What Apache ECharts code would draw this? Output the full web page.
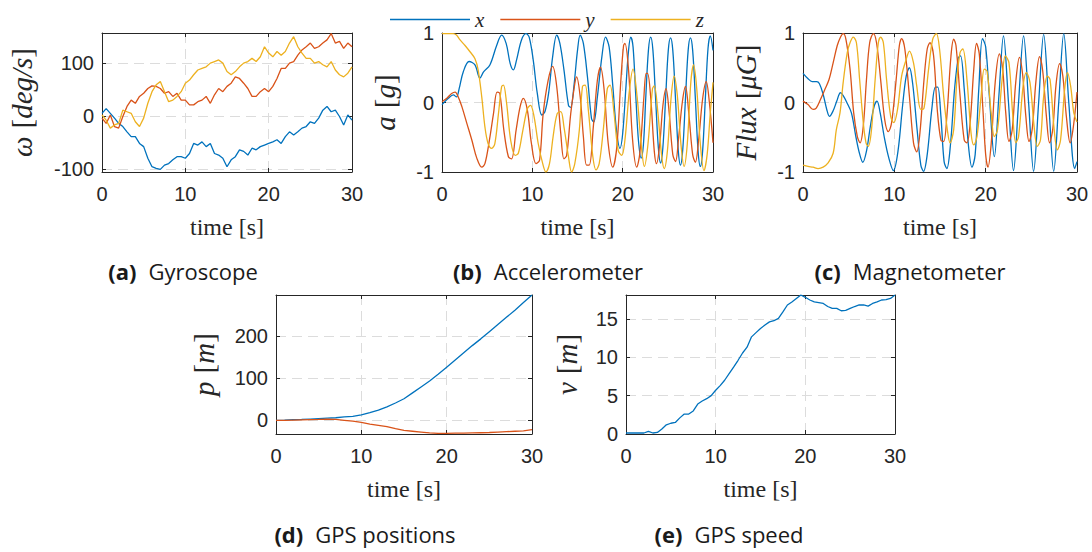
<!DOCTYPE html>
<html>
<head>
<meta charset="utf-8">
<script src="https://cdn.jsdelivr.net/npm/echarts@6/dist/echarts.min.js"></script>
<style>
  html, body { margin: 0; padding: 0; background: #ffffff; }
  #chart { width: 1092px; height: 552px; }
</style>
</head>
<body>
<div id="chart"></div>
<script>
// ---------- Gyroscope (deg/s), sampled every 0.5 s ----------
const gyroTime = [0,0.5,1,1.5,2,2.5,3,3.5,4,4.5,5,5.5,6,6.5,7,7.5,8,8.5,9,9.5,10,10.5,11,11.5,12,12.5,13,13.5,14,14.5,15,15.5,16,16.5,17,17.5,18,18.5,19,19.5,20,20.5,21,21.5,22,22.5,23,23.5,24,24.5,25,25.5,26,26.5,27,27.5,28,28.5,29,29.5,30];
const gyroX = [5,14,5,-4,-14,-20,-30,-39,-39,-52,-58,-80,-96,-99,-101,-93,-90,-83,-77,-77,-80,-71,-52,-55,-49,-58,-52,-71,-74,-80,-96,-83,-77,-64,-67,-74,-61,-64,-58,-55,-52,-49,-45,-52,-39,-30,-36,-30,-23,-20,-11,-14,-4,11,18,8,11,-1,-17,2,-8];
const gyroY = [-4,-14,2,-20,-23,-1,18,30,24,37,43,52,57,56,52,43,46,37,43,30,30,21,21,27,30,37,24,40,52,46,56,62,74,71,62,52,37,37,46,52,46,56,71,90,90,100,103,115,125,131,138,128,131,138,144,156,138,141,128,138,131];
const gyroZ = [2,-8,-23,-17,-14,11,8,5,-11,-20,-4,24,46,59,65,46,27,30,37,46,62,68,78,87,90,93,100,103,106,100,84,78,84,93,100,103,109,103,112,131,119,112,122,115,122,138,150,131,119,109,109,100,103,97,93,103,87,78,74,81,93];

// ---------- Accelerometer (g): [time, value] ----------
const accelX = [[0,-0.03],[0.7,0.06],[1.25,0.11],[1.6,0.08],[1.9,0.2],[2.35,0.44],[3.0,0.59],[3.65,0.54],[4.2,0.35],[4.6,0.44],[5.3,0.54],[6.05,0.82],[6.6,0.97],[7.1,0.85],[7.55,0.56],[7.9,0.47],[8.25,0.61],[8.8,0.9],[9.3,0.99],[9.65,0.94],[10.1,0.61],[10.55,0.13],[11.05,-0.18],[11.4,-0.13],[11.8,0.13],[12.25,0.66],[12.7,0.97],[13.05,0.85],[13.5,0.47],[14.0,-0.04],[14.25,-0.07],[14.6,0.23],[15.0,0.75],[15.3,0.97],[15.65,0.85],[16.1,0.37],[16.55,-0.23],[16.8,-0.28],[17.2,0.08],[17.7,0.66],[18.1,0.94],[18.5,0.8],[18.9,0.25],[19.3,-0.38],[19.7,-0.66],[20.0,-0.45],[20.35,0.2],[20.65,0.75],[20.9,0.94],[21.15,0.8],[21.45,0.1],[21.75,-0.55],[22.05,-0.8],[22.3,-0.6],[22.55,0.05],[22.85,0.75],[23.1,0.94],[23.35,0.75],[23.65,0.05],[23.95,-0.65],[24.2,-0.87],[24.45,-0.65],[24.75,0.05],[25.05,0.75],[25.3,0.93],[25.55,0.75],[25.85,0.05],[26.15,-0.68],[26.4,-0.9],[26.65,-0.68],[26.95,0.05],[27.25,0.75],[27.5,0.93],[27.75,0.75],[28.05,0.05],[28.35,-0.7],[28.6,-0.92],[28.85,-0.7],[29.15,0.05],[29.45,0.78],[29.7,0.96],[30,0.75]];
const accelY = [[0,0.01],[0.6,0.07],[1.07,0.13],[1.45,0.15],[1.8,0.08],[2.2,-0.06],[2.75,-0.3],[3.3,-0.54],[3.85,-0.8],[4.4,-0.93],[4.75,-0.88],[5.25,-0.54],[5.7,-0.16],[6.1,0.15],[6.4,0.13],[6.85,-0.4],[7.35,-0.78],[7.7,-0.81],[8.2,-0.4],[8.65,-0.06],[9.0,0.06],[9.45,-0.11],[9.9,-0.59],[10.4,-0.88],[10.8,-0.83],[11.2,-0.16],[11.75,0.32],[12.25,0.52],[12.7,0.23],[13.15,-0.45],[13.5,-0.81],[13.8,-0.76],[14.25,-0.16],[14.7,0.27],[14.9,0.37],[15.3,0.08],[15.65,-0.49],[16.0,-0.9],[16.3,-0.9],[16.75,-0.35],[17.2,0.32],[17.55,0.51],[17.95,0.18],[18.4,-0.59],[18.9,-0.93],[19.35,-0.64],[19.8,0.32],[20.1,0.82],[20.25,0.85],[20.65,0.47],[21.1,-0.54],[21.55,-0.93],[21.9,-0.73],[22.35,0.08],[22.6,0.42],[22.75,0.42],[23.1,0.08],[23.5,-0.7],[23.75,-0.88],[24.1,-0.6],[24.45,-0.05],[24.8,0.2],[25.15,-0.15],[25.55,-0.75],[25.85,-0.85],[26.2,-0.5],[26.6,0.0],[26.95,0.23],[27.35,-0.2],[27.75,-0.75],[28.05,-0.86],[28.4,-0.55],[28.85,0.05],[29.25,0.3],[29.6,0.0],[30,-0.58]];
const accelZ = [[0,0.99],[1.25,0.99],[1.6,0.97],[2.0,0.9],[2.55,0.82],[3.1,0.73],[3.65,0.63],[4.0,0.47],[4.4,0.08],[4.75,-0.35],[5.1,-0.59],[5.5,-0.66],[5.85,-0.59],[6.25,-0.16],[6.6,0.23],[6.8,0.25],[7.15,-0.01],[7.6,-0.54],[8.1,-0.76],[8.45,-0.73],[8.95,-0.4],[9.45,-0.09],[9.8,-0.04],[10.2,-0.21],[10.65,-0.59],[11.15,-0.88],[11.5,-1.0],[11.9,-0.88],[12.3,-0.49],[12.75,-0.16],[13.15,-0.13],[13.5,-0.35],[14.0,-0.78],[14.35,-1.0],[14.7,-0.88],[15.2,-0.4],[15.55,0.23],[15.85,0.25],[16.2,-0.11],[16.7,-0.78],[17.05,-0.97],[17.4,-0.88],[17.85,-0.4],[18.3,0.2],[18.6,0.25],[19.05,-0.16],[19.5,-0.69],[19.9,-0.76],[20.25,-0.54],[20.75,0.18],[21.15,0.48],[21.6,0.08],[22.05,-0.6],[22.4,-0.92],[22.8,-0.6],[23.3,0.2],[23.5,0.24],[23.9,-0.15],[24.3,-0.75],[24.6,-0.95],[24.95,-0.7],[25.35,0.05],[25.7,0.38],[26.05,0.1],[26.45,-0.6],[26.8,-0.92],[27.15,-0.6],[27.55,0.3],[27.85,0.54],[28.2,0.2],[28.6,-0.6],[29.0,-0.98],[29.35,-0.75],[29.7,-0.15],[30,0.29]];

// ---------- Magnetometer (uG): [time, value] ----------
const magX = [[0,0.42],[0.5,0.35],[1.0,0.3],[1.5,0.3],[1.8,0.27],[2.2,0.12],[2.6,-0.1],[2.9,-0.2],[3.3,-0.12],[3.7,0.02],[4.1,0.14],[4.4,0.1],[4.8,0.0],[5.3,-0.15],[5.8,-0.5],[6.2,-0.74],[6.55,-0.86],[6.95,-0.7],[7.4,-0.32],[7.8,-0.05],[8.1,0.02],[8.45,-0.15],[8.9,-0.5],[9.4,-0.8],[9.9,-0.98],[10.4,-0.7],[10.9,-0.05],[11.3,0.38],[11.65,0.5],[12.0,0.28],[12.5,-0.4],[12.9,-0.9],[13.2,-0.99],[13.6,-0.75],[14.1,-0.1],[14.5,0.22],[14.75,0.22],[15.1,-0.2],[15.45,-0.85],[15.75,-0.95],[16.15,-0.6],[16.6,0.2],[17.0,0.64],[17.25,0.67],[17.65,0.2],[18.1,-0.6],[18.5,-0.93],[18.85,-0.75],[19.25,0.2],[19.65,0.92],[20.0,0.8],[20.4,0.1],[20.95,-0.78],[21.45,0.1],[21.95,0.96],[22.5,0.0],[23.05,-0.98],[23.6,0.0],[24.15,0.96],[24.7,0.0],[25.25,-0.99],[25.8,0.0],[26.35,0.98],[26.9,0.0],[27.45,-0.99],[28.0,0.0],[28.55,0.99],[29.1,0.0],[29.75,-0.95],[30,-0.85]];
const magY = [[0,0.02],[0.55,-0.03],[1.1,-0.1],[1.45,-0.08],[1.9,0.04],[2.4,0.19],[2.85,0.33],[3.3,0.57],[3.75,0.82],[4.1,0.94],[4.4,0.99],[4.7,0.91],[5.15,0.48],[5.55,-0.15],[5.95,-0.49],[6.25,-0.58],[6.6,-0.34],[6.95,0.33],[7.3,0.86],[7.7,0.99],[8.05,0.86],[8.5,0.33],[8.95,-0.25],[9.35,-0.42],[9.7,-0.29],[10.2,0.33],[10.55,0.82],[10.8,0.92],[11.15,0.77],[11.65,0.09],[12.1,-0.58],[12.45,-0.71],[12.8,-0.44],[13.25,0.33],[13.6,0.77],[13.9,0.86],[14.3,0.67],[14.7,-0.1],[15.1,-0.54],[15.4,-0.56],[15.75,-0.2],[16.2,0.67],[16.5,0.91],[16.75,0.82],[17.2,0.09],[17.65,-0.54],[17.95,-0.58],[18.3,-0.29],[18.7,0.48],[19.0,0.85],[19.3,0.7],[19.7,-0.1],[20.0,-0.75],[20.25,-0.93],[20.6,-0.6],[21.05,0.3],[21.5,0.7],[21.85,0.5],[22.2,-0.15],[22.55,-0.56],[22.9,-0.4],[23.3,0.3],[23.7,0.65],[24.05,0.4],[24.4,-0.2],[24.75,-0.56],[25.1,-0.38],[25.5,0.3],[25.9,0.66],[26.25,0.45],[26.65,-0.2],[27.0,-0.58],[27.35,-0.38],[27.7,0.25],[28.1,0.56],[28.45,0.38],[28.85,-0.22],[29.25,-0.58],[29.6,-0.35],[30,0.15]];
const magZ = [[0,-0.9],[0.55,-0.92],[1.1,-0.93],[1.65,-0.95],[2.2,-0.93],[2.75,-0.87],[3.3,-0.73],[3.65,-0.39],[4.05,-0.15],[4.4,0.29],[4.85,0.72],[5.15,0.86],[5.5,0.94],[5.85,0.86],[6.2,0.33],[6.6,-0.29],[6.9,-0.58],[7.15,-0.63],[7.5,-0.39],[7.9,0.33],[8.25,0.86],[8.5,0.94],[8.8,0.86],[9.15,0.33],[9.6,-0.2],[9.95,-0.29],[10.35,-0.1],[10.8,0.38],[11.3,0.62],[11.65,0.74],[12.1,0.57],[12.45,0.24],[12.9,-0.1],[13.25,-0.08],[13.75,0.48],[14.2,0.91],[14.6,0.99],[14.95,0.77],[15.4,0.09],[15.8,-0.39],[16.1,-0.58],[16.5,-0.39],[16.85,0.33],[17.2,0.72],[17.5,0.77],[17.95,0.33],[18.4,-0.44],[18.7,-0.61],[19.05,-0.49],[19.5,0.09],[19.85,0.48],[20.15,0.45],[20.6,-0.15],[20.95,-0.49],[21.3,-0.39],[21.8,0.33],[22.15,0.67],[22.55,0.57],[22.95,-0.15],[23.3,-0.58],[23.6,-0.49],[24.1,0.24],[24.45,0.43],[24.85,0.29],[25.3,-0.34],[25.65,-0.63],[26.0,-0.54],[26.35,0.09],[26.75,0.38],[27.05,0.33],[27.5,-0.39],[27.85,-0.68],[28.2,-0.54],[28.65,0.19],[28.95,0.43],[29.3,0.24],[29.65,-0.15],[30,-0.28]];

// ---------- GPS positions (m), every 1 s ----------
const gpsTime = [0,1,2,3,4,5,6,7,8,9,10,11,12,13,14,15,16,17,18,19,20,21,22,23,24,25,26,27,28,29,30];
const posX = [0,0.5,1.5,2,3,4,5,6,8,9.5,13,18,24,32,41,51,65,79,93,109,126,143,160,177,193,210,227,244,261,279,297];
const posY = [0,0,0.5,1,1.5,2,3,2,0,-2,-5,-9,-12,-15,-20,-24,-26,-28,-30,-31,-31,-30.5,-30.5,-30,-29.5,-29,-28,-27,-26,-25,-22];

// ---------- GPS speed, every 0.5 s ----------
const speedTime = gyroTime;
const speed = [0.13,0.13,0.13,0.15,0.13,0.35,0.13,0.2,0.65,1.2,1.4,1.5,2.1,2.6,2.6,3.0,3.9,4.3,4.6,5.0,5.7,6.3,7.0,7.85,8.7,9.6,10.55,11.3,12.65,13.2,13.75,14.2,14.6,14.75,15.05,15.9,16.8,17.2,17.65,18.1,17.8,17.45,17.2,17.1,17.0,16.6,16.35,16.35,16.05,16.1,16.35,16.6,16.8,16.8,16.65,17.0,17.2,17.45,17.5,17.65,18.1];

// ---------- tick labels / names ----------
const timeTicks = [0, 10, 20, 30];
const seriesNames = ['x', 'y', 'z'];
const captions = [
  { tag: '(a)', text: 'Gyroscope' },
  { tag: '(b)', text: 'Accelerometer' },
  { tag: '(c)', text: 'Magnetometer' },
  { tag: '(d)', text: 'GPS positions' },
  { tag: '(e)', text: 'GPS speed' }
];

// ---------- styling ----------
const COLORS = ['#0072BD', '#D95319', '#EDB120'];
const AX = '#262626';
const GRID = '#dcdcdc';
const SANS = 'Liberation Sans, Arial, sans-serif';
const SERIF = 'Liberation Serif, Times New Roman, serif';
const CAP = 'Open Sans, DejaVu Sans, sans-serif';

// panel layout: left, top, width, height
const panels = [
  { left: 102, top: 33, width: 250, height: 139, ymin: -106, ymax: 157, step: 100, name: '{i|ω}{s|}{r|[}{i|deg/s}{r|]}', gap: 66, cap: [183, 271] },
  { left: 442, top: 33, width: 271, height: 139, ymin: -1, ymax: 1, step: 1, name: '{i|a}{s|}{r|[}{i|g}{r|]}', gap: 43, cap: [548, 271] },
  { left: 803, top: 33, width: 274, height: 139, ymin: -1, ymax: 1, step: 1, name: '{i|Flux}{s|}{r|[}{i|μG}{r|]}', gap: 43, cap: [910, 271] },
  { left: 276, top: 295, width: 256, height: 139, ymin: -32.5, ymax: 297, step: 100, name: '{i|p}{s|}{r|[}{i|m}{r|]}', gap: 58, cap: [365, 534] },
  { left: 626, top: 295, width: 269, height: 139, ymin: 0, ymax: 18.1, step: 5, name: '{i|v}{s|}{r|[}{i|m}{r|]}', gap: 45, cap: [729, 534] }
];

const nameRich = {
  i: { fontFamily: SERIF, fontStyle: 'italic', fontSize: 29, color: AX },
  r: { fontFamily: SERIF, fontSize: 29, color: AX },
  s: { width: 8 }
};

const grids = [], xAxes = [], yAxes = [];
panels.forEach((p, gi) => {
  grids.push({ left: p.left, top: p.top, width: p.width, height: p.height, containLabel: false });
  const tick = { inside: true, length: 4, lineStyle: { color: AX, width: 1 } };
  const line = { show: true, onZero: false, lineStyle: { color: AX, width: 1 } };
  xAxes.push({
    type: 'value', gridIndex: gi, position: 'bottom', min: 0, max: 30, interval: 10,
    axisLine: line, axisTick: tick,
    axisLabel: { margin: 12, fontSize: 20, fontFamily: SANS, color: AX,
      formatter: v => timeTicks.indexOf(v) >= 0 ? String(v) : '' },
    splitLine: { show: true, lineStyle: { color: GRID, type: [10, 6], width: 1 } },
    name: 'time [s]', nameLocation: 'middle', nameGap: 43,
    nameTextStyle: { fontFamily: SERIF, fontSize: 24, color: AX }
  });
  xAxes.push({
    type: 'value', gridIndex: gi, position: 'top', min: 0, max: 30, interval: 10,
    axisLine: line, axisTick: tick, axisLabel: { show: false }, splitLine: { show: false }
  });
  const step = p.step;
  const isTick = v => Math.abs(v / step - Math.round(v / step)) < 1e-6;
  yAxes.push({
    type: 'value', gridIndex: gi, position: 'left', min: p.ymin, max: p.ymax,
    minInterval: step, maxInterval: step,
    axisLine: line, axisTick: tick,
    axisLabel: { margin: 8, fontSize: 20, fontFamily: SANS, color: AX,
      formatter: v => isTick(v) ? String(Math.round(v)) : '' },
    splitLine: { show: true, lineStyle: { color: GRID, type: [10, 6], width: 1 } },
    name: p.name, nameLocation: 'middle', nameRotate: 90, nameGap: p.gap,
    nameTextStyle: { rich: nameRich }
  });
  yAxes.push({
    type: 'value', gridIndex: gi, position: 'right', min: p.ymin, max: p.ymax,
    minInterval: step, maxInterval: step,
    axisLine: line, axisTick: tick, axisLabel: { show: false }, splitLine: { show: false }
  });
});

function zip(times, values) { return values.map((v, i) => [times[i], v]); }
function lineSeries(gi, name, color, data, smooth) {
  return {
    type: 'line', name: name, xAxisIndex: 2 * gi, yAxisIndex: 2 * gi,
    data: data, showSymbol: false, symbol: 'none', smooth: smooth || false,
    lineStyle: { color: color, width: 1.3 }, itemStyle: { color: color },
    animation: false, z: 1
  };
}

const series = [
  lineSeries(0, seriesNames[0], COLORS[0], zip(gyroTime, gyroX)),
  lineSeries(0, seriesNames[1], COLORS[1], zip(gyroTime, gyroY)),
  lineSeries(0, seriesNames[2], COLORS[2], zip(gyroTime, gyroZ)),
  lineSeries(1, seriesNames[0], COLORS[0], accelX, 0.35),
  lineSeries(1, seriesNames[1], COLORS[1], accelY, 0.35),
  lineSeries(1, seriesNames[2], COLORS[2], accelZ, 0.35),
  lineSeries(2, seriesNames[0], COLORS[0], magX, 0.35),
  lineSeries(2, seriesNames[1], COLORS[1], magY, 0.35),
  lineSeries(2, seriesNames[2], COLORS[2], magZ, 0.35),
  lineSeries(3, seriesNames[0], COLORS[0], zip(gpsTime, posX)),
  lineSeries(3, seriesNames[1], COLORS[1], zip(gpsTime, posY)),
  lineSeries(4, 'speed', COLORS[0], zip(speedTime, speed))
];

const graphics = captions.map((c, i) => ({
  type: 'text', x: panels[i].cap[0], y: panels[i].cap[1],
  style: {
    text: '{b|' + c.tag + '}{s|}{n|' + c.text + '}',
    align: 'center', verticalAlign: 'middle',
    rich: {
      b: { fontFamily: CAP, fontWeight: 'bold', fontSize: 22, fill: '#1a1a1a', color: '#1a1a1a' },
      s: { width: 12 },
      n: { fontFamily: CAP, fontSize: 22, fill: '#1a1a1a', color: '#1a1a1a' }
    }
  }
}));

const chart = echarts.init(document.getElementById('chart'), null, { renderer: 'svg' });
chart.setOption({
  animation: false,
  backgroundColor: '#ffffff',
  legend: {
    data: seriesNames, left: 385, top: 4, icon: 'rect', itemWidth: 80, itemHeight: 1.6, itemGap: 16,
    textStyle: { fontFamily: SERIF, fontStyle: 'italic', fontSize: 21, color: AX }
  },
  grid: grids,
  xAxis: xAxes,
  yAxis: yAxes,
  series: series,
  graphic: graphics
});
</script>
</body>
</html>
